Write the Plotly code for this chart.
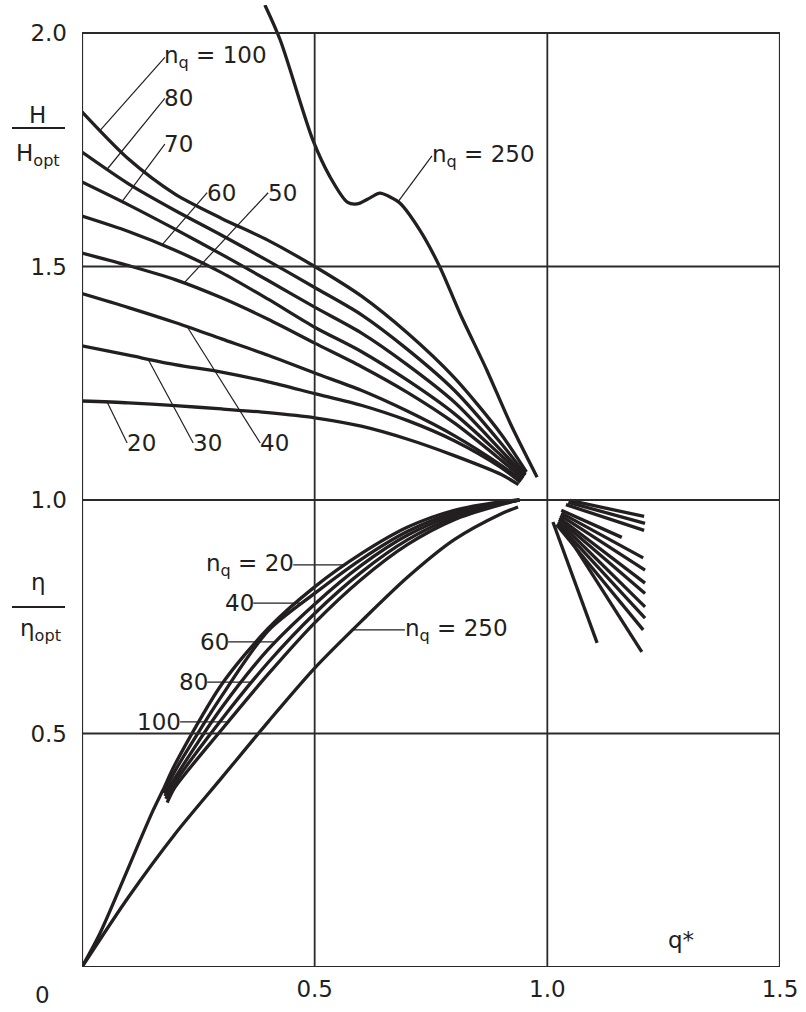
import numpy as np
import plotly.graph_objects as go

# ---------------- data ----------------
# Head curves H/H_opt versus q*
H_X = [0.0, 0.1, 0.2, 0.3, 0.4, 0.5, 0.6, 0.7, 0.8, 0.9]
H_CURVES = {
    "100": (H_X + [0.955], [1.831, 1.730, 1.655, 1.603, 1.556, 1.500, 1.437, 1.357, 1.262, 1.142, 1.060]),
    "80":  (H_X + [0.953], [1.745, 1.677, 1.620, 1.567, 1.512, 1.455, 1.397, 1.322, 1.235, 1.122, 1.055]),
    "70":  (H_X + [0.952], [1.681, 1.632, 1.580, 1.526, 1.470, 1.413, 1.358, 1.289, 1.210, 1.107, 1.052]),
    "60":  (H_X + [0.950], [1.608, 1.575, 1.535, 1.487, 1.430, 1.370, 1.318, 1.256, 1.185, 1.096, 1.050]),
    "50":  (H_X + [0.948], [1.529, 1.502, 1.472, 1.433, 1.387, 1.336, 1.286, 1.230, 1.165, 1.086, 1.046]),
    "40":  (H_X + [0.945], [1.442, 1.412, 1.380, 1.345, 1.310, 1.272, 1.235, 1.190, 1.138, 1.075, 1.042]),
    "30":  (H_X + [0.942], [1.330, 1.310, 1.290, 1.274, 1.253, 1.228, 1.203, 1.170, 1.127, 1.070, 1.038]),
    "20":  (H_X + [0.938], [1.212, 1.208, 1.202, 1.195, 1.187, 1.176, 1.158, 1.130, 1.095, 1.055, 1.033]),
}
H250_X = [0.393, 0.426, 0.496, 0.533, 0.570, 0.591, 0.619, 0.640, 0.662, 0.683, 0.726, 0.769, 0.812, 0.870, 0.920, 0.978]
H250_Y = [2.060, 1.985, 1.771, 1.692, 1.638, 1.634, 1.647, 1.657, 1.649, 1.636, 1.578, 1.499, 1.400, 1.278, 1.165, 1.049]

# Efficiency curves eta/eta_opt versus q*
E_CURVES = {
    "20":  ([0.0, 0.039, 0.082, 0.125, 0.153, 0.174, 0.2, 0.3, 0.4, 0.5, 0.6, 0.7, 0.8, 0.9, 0.940],
            [0.0, 0.073, 0.171, 0.272, 0.336, 0.379, 0.434, 0.605, 0.725, 0.814, 0.885, 0.942, 0.978, 0.996, 1.000]),
    "40":  ([0.176, 0.2, 0.3, 0.4, 0.5, 0.6, 0.7, 0.8, 0.9, 0.940],
            [0.372, 0.420, 0.580, 0.720, 0.800, 0.873, 0.933, 0.973, 0.995, 1.000]),
    "60":  ([0.178, 0.2, 0.3, 0.4, 0.5, 0.6, 0.7, 0.8, 0.9, 0.940],
            [0.366, 0.405, 0.555, 0.680, 0.777, 0.860, 0.925, 0.968, 0.993, 1.000]),
    "80":  ([0.180, 0.2, 0.3, 0.4, 0.5, 0.6, 0.7, 0.8, 0.9, 0.940],
            [0.360, 0.395, 0.530, 0.652, 0.757, 0.845, 0.915, 0.963, 0.991, 1.000]),
    "100": ([0.183, 0.2, 0.3, 0.4, 0.5, 0.6, 0.7, 0.8, 0.9, 0.940],
            [0.352, 0.385, 0.508, 0.627, 0.737, 0.830, 0.905, 0.958, 0.990, 1.000]),
}
E250_X = [0.0, 0.1, 0.2, 0.3, 0.4, 0.5, 0.6, 0.7, 0.8, 0.9, 0.937]
E250_Y = [0.0, 0.150, 0.285, 0.405, 0.525, 0.640, 0.740, 0.835, 0.915, 0.970, 0.985]

# Efficiency branches beyond q* = 1
R_START_X = [1.048, 1.045, 1.040, 1.030, 1.030, 1.028, 1.026, 1.025, 1.024, 1.022, 1.020, 1.030, 1.012]
R_START_Y = [0.999, 0.995, 0.990, 0.978, 0.972, 0.967, 0.962, 0.958, 0.954, 0.950, 0.947, 0.945, 0.953]
R_END_X = [1.208, 1.210, 1.208, 1.160, 1.206, 1.210, 1.210, 1.210, 1.210, 1.210, 1.206, 1.203, 1.107]
R_END_Y = [0.965, 0.950, 0.935, 0.920, 0.876, 0.850, 0.822, 0.800, 0.771, 0.747, 0.722, 0.675, 0.694]

X_TICKS = [0.5, 1.0, 1.5]
X_TICK_TEXT = ["0.5", "1.0", "1.5"]
Y_TICKS = [0.5, 1.0, 1.5, 2.0]
Y_TICK_TEXT = ["0.5", "1.0", "1.5", "2.0"]

# label: (text, curve, q* where leader meets curve, text x, text y)
H_LABELS = [
    ("n<sub>q</sub> = 100", "100", 0.039, 0.178, 1.948),
    ("80", "80", 0.054, 0.178, 1.860),
    ("70", "70", 0.086, 0.178, 1.762),
    ("60", "60", 0.172, 0.269, 1.658),
    ("50", "50", 0.219, 0.400, 1.658),
    ("20", "20", 0.054, 0.097, 1.122),
    ("30", "30", 0.142, 0.239, 1.122),
    ("40", "40", 0.226, 0.383, 1.122),
]
H250_LABEL = ("n<sub>q</sub> = 250", 0.679, 0.752, 1.737)
# efficiency labels: (text, curve, text right-end x, y)
E_LABELS = [
    ("n<sub>q</sub> = 20", "20", 0.454, 0.861),
    ("40", "40", 0.368, 0.779),
    ("60", "60", 0.314, 0.696),
    ("80", "80", 0.269, 0.610),
    ("100", "100", 0.211, 0.525),
]
E250_LABEL = ("n<sub>q</sub> = 250", 0.694, 0.722)

# ---------------- styles ----------------
INK = "#231f20"
GRID = "#2a2a2a"
FONT = "DejaVu Sans, Verdana, sans-serif"
FS = 23
CW = 3.3
LW = 1.2

fig = go.Figure()


def curve(x, y):
    fig.add_trace(go.Scatter(x=x, y=y, mode="lines", line=dict(color=INK, width=CW, shape="spline", smoothing=0.8),
                             hoverinfo="skip", showlegend=False))


def leader(x, y):
    fig.add_trace(go.Scatter(x=x, y=y, mode="lines", line=dict(color=INK, width=LW),
                             hoverinfo="skip", showlegend=False))


for k, (x, y) in H_CURVES.items():
    curve(x, y)
curve(H250_X, H250_Y)
for k, (x, y) in E_CURVES.items():
    curve(x, y)
curve(E250_X, E250_Y)
for x0, y0, x1, y1 in zip(R_START_X, R_START_Y, R_END_X, R_END_Y):
    fig.add_trace(go.Scatter(x=[x0, x1], y=[y0, y1], mode="lines", line=dict(color=INK, width=CW),
                             hoverinfo="skip", showlegend=False))

annotations = []


def label(text, x, y, xanchor):
    annotations.append(dict(x=x, y=y, xref="x", yref="y", text=text, showarrow=False, xanchor=xanchor,
                            yanchor="middle", borderpad=0,
                            font=dict(family=FONT, size=FS, color=INK)))


for text, key, qx, tx, ty in H_LABELS:
    cx, cy = H_CURVES[key]
    leader([qx, tx], [float(np.interp(qx, cx, cy)), ty])
    label(text, tx - 0.003, ty, "left")
text, qx, tx, ty = H250_LABEL
leader([qx, tx], [float(np.interp(qx, H250_X, H250_Y)), ty])
label(text, tx - 0.003, ty, "left")

for text, key, tx, ty in E_LABELS:
    cx, cy = E_CURVES[key]
    leader([tx, float(np.interp(ty, cy, cx))], [ty, ty])
    label(text, tx + 0.003, ty, "right")
text, tx, ty = E250_LABEL
leader([float(np.interp(ty, E250_Y, E250_X)), tx], [ty, ty])
label(text, tx - 0.003, ty, "left")

# frame and grid
shapes = []
for gx in [0.0, 0.5, 1.0, 1.5]:
    shapes.append(dict(type="line", xref="x", yref="y", x0=gx, x1=gx, y0=0, y1=2.0,
                       line=dict(color=GRID, width=2.2 if gx in (0.0, 1.5) else 1.8)))
for gy in [0.0, 0.5, 1.0, 1.5, 2.0]:
    shapes.append(dict(type="line", xref="x", yref="y", x0=0, x1=1.5, y0=gy, y1=gy,
                       line=dict(color=GRID, width=2.2 if gy in (0.0, 2.0) else 1.8)))


# axis titles (fractions) and other texts in paper coordinates
def ptext(text, x, y, xanchor="center", size=FS):
    annotations.append(dict(x=x, y=y, xref="paper", yref="paper", text=text, showarrow=False, borderpad=0,
                            xanchor=xanchor, yanchor="middle", font=dict(family=FONT, size=size, color=INK)))


def px2paper(px, py):
    return (px - 82) / 698.0, (967 - py) / 962.0


ptext("H", *px2paper(37, 115))
ptext("H<sub>opt</sub>", *px2paper(38, 155))
ptext("η", *px2paper(38, 582))
ptext("η<sub>opt</sub>", *px2paper(40, 630))
ptext("q*", *px2paper(681, 940))
ptext("0", *px2paper(42, 995))
for py in (128, 607):
    x0, y = px2paper(12, py)
    x1, _ = px2paper(65, py)
    shapes.append(dict(type="line", xref="paper", yref="paper", x0=x0, x1=x1, y0=y, y1=y,
                       line=dict(color=INK, width=1.8)))

fig.update_layout(
    width=806, height=1012,
    margin=dict(l=82, r=26, t=5, b=45, autoexpand=False),
    paper_bgcolor="white", plot_bgcolor="white",
    showlegend=False,
    shapes=shapes, annotations=annotations,
    font=dict(family=FONT, size=FS, color=INK),
    xaxis=dict(range=[0, 1.5], tickvals=X_TICKS, ticktext=X_TICK_TEXT, showgrid=False, zeroline=False,
               showline=False, ticks="", ticklabelstandoff=6, tickfont=dict(family=FONT, size=FS, color=INK),
               fixedrange=True, automargin=False),
    yaxis=dict(range=[0, 2.06], tickvals=Y_TICKS, ticktext=Y_TICK_TEXT, showgrid=False, zeroline=False,
               showline=False, ticks="", ticklabelstandoff=14, tickfont=dict(family=FONT, size=FS, color=INK),
               fixedrange=True, automargin=False),
)

fig.write_html("out.html", config={"displayModeBar": False, "staticPlot": True},
               post_script="document.body.style.margin='0px';document.body.style.overflow='hidden';")
